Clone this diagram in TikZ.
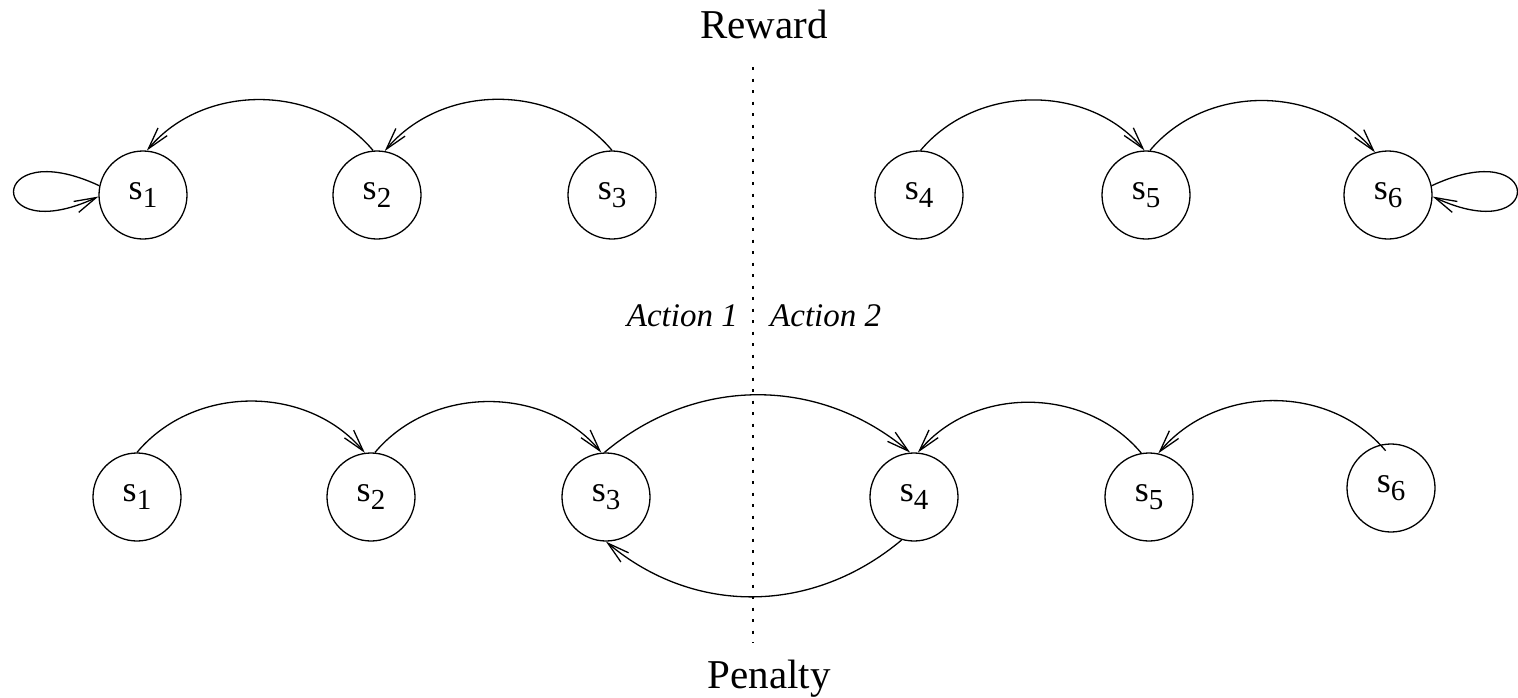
\documentclass[tikz,border=0pt]{standalone}
\usepackage{fontspec}
\setmainfont{Liberation Serif}
\usetikzlibrary{arrows.meta}
\newcommand{\stlab}[1]{\raisebox{-2.5pt}{\fontsize{36}{40}\selectfont s\raisebox{-8pt}{\fontsize{29}{32}\selectfont #1}}}
\begin{document}
\begin{tikzpicture}[x=1pt,y=-1pt,
  state/.style={circle,draw,line width=1.3pt,minimum size=88pt,inner sep=0pt},
  conn/.style={line width=1.3pt,-{Straight Barb[length=22pt,width=12pt,line width=1.3pt]}},
  title/.style={font=\fontsize{41}{46}\selectfont,inner sep=0pt},
  act/.style={font=\fontsize{33}{38}\selectfont\itshape,inner sep=0pt},
  divider/.style={line width=1.3pt,dash pattern=on 3pt off 8.5pt}]
\useasboundingbox (0,0) rectangle (1518,697);
% top row
\node[state] (t1) at (143,195) {\stlab{1}};
\node[state] (t2) at (377,195) {\stlab{2}};
\node[state] (t3) at (612,195) {\stlab{3}};
\node[state] (t4) at (919,195) {\stlab{4}};
\node[state] (t5) at (1146,195) {\stlab{5}};
\node[state] (t6) at (1388,195) {\stlab{6}};
% bottom row
\node[state] (b1) at (137,497) {\stlab{1}};
\node[state] (b2) at (371,497) {\stlab{2}};
\node[state] (b3) at (606,497) {\stlab{3}};
\node[state] (b4) at (914,497) {\stlab{4}};
\node[state] (b5) at (1149,497) {\stlab{5}};
\node[state] (b6) at (1391,488) {\stlab{6}};
% texts
\node[title,anchor=base] (rew) at (764,38) {Reward};
\node[title,anchor=base] (pen) at (769,688) {Penalty};
\node[act,anchor=base east] (a1) at (738,326) {Action 1};
\node[act,anchor=base west] (a2) at (770,326) {Action 2};
% divider
\coordinate (dtop) at (753,67);
\coordinate (dbot) at (753,643);
\draw[divider] (dtop) -- (dbot);
% top connectors
\draw[conn] (t2.95) to[out=130,in=50] (t1.85);
\draw[conn] (t3.90) to[out=130,in=50] (t2.80);
\draw[conn] (t4.88) to[out=50,in=130] (t5.92);
\draw[conn] (t5.85) to[out=50,in=130] (t6.107);
\draw[conn] (t1.168) .. controls +(205:125) and +(155:125) .. (t1.182);
\draw[conn] (t6.12) .. controls +(-25:125) and +(25:125) .. (t6.-2);
% bottom connectors
\draw[conn] (b1.90) to[out=50,in=130] (b2.98);
\draw[conn] (b2.85) to[out=50,in=130] (b3.96);
\draw[conn] (b3.92) to[out=40,in=140] (b4.95);
\draw[conn] (b5.100) to[out=130,in=50] (b4.85);
\draw[conn] ([yshift=-7pt]b6.97) to[out=130,in=50] (b5.78);
\draw[conn] (b4.254) to[out=220,in=320] (b3.270);
\end{tikzpicture}
\end{document}
